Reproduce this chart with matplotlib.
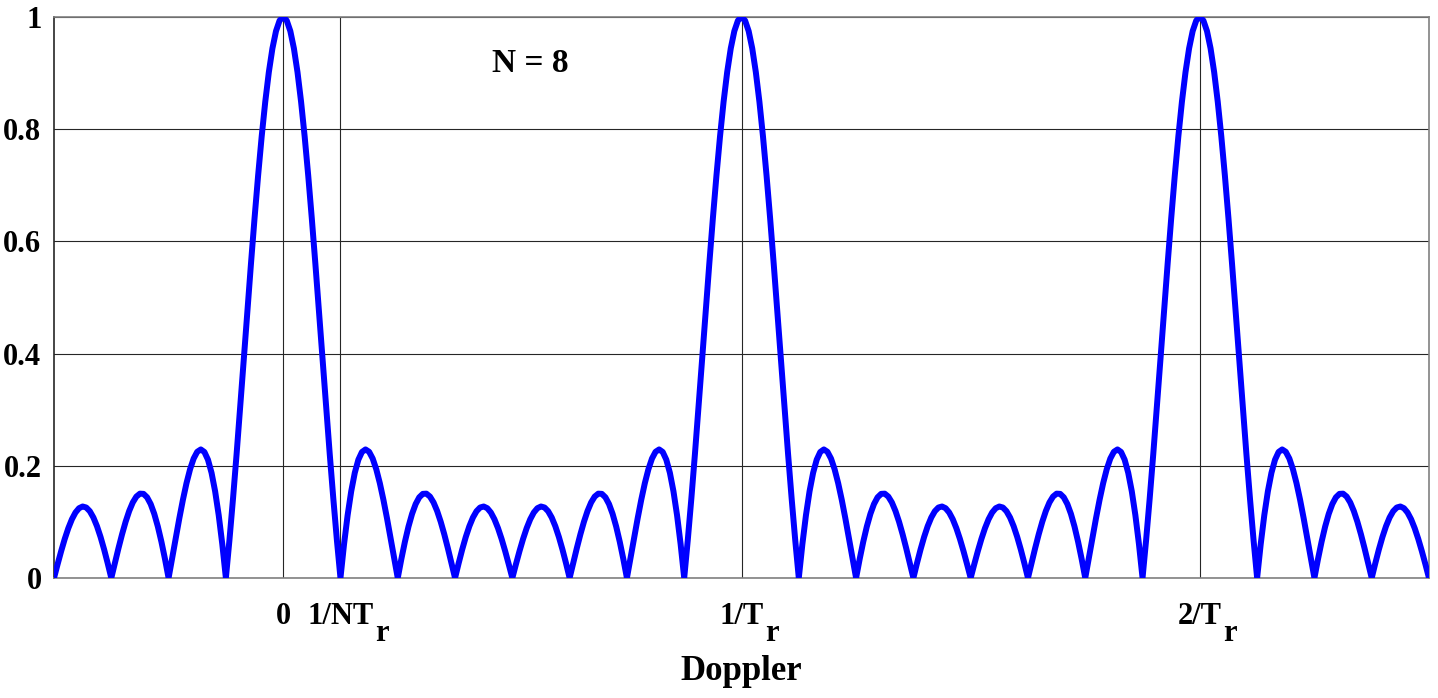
import numpy as np
import matplotlib.pyplot as plt

plt.rcParams['font.family'] = 'Liberation Serif'
plt.rcParams['font.weight'] = 'bold'

# pulse count and Doppler span (in units of 1/Tr)
N = 8
doppler_start = -0.5
doppler_stop = 2.5
n_samples = 385

xtick_pos = [0, 1 / N, 1, 2]
xtick_main = ['0', '1/NT', '1/T', '2/T']
xtick_sub = ['', 'r', 'r', 'r']
ytick_pos = [0, 0.2, 0.4, 0.6, 0.8, 1]
ytick_labels = ['0', '0.2', '0.4', '0.6', '0.8', '1']

# normalised coherent-train response |sin(N pi f Tr) / (N sin(pi f Tr))|
f = np.linspace(doppler_start, doppler_stop, n_samples)
num = np.sin(N * np.pi * f)
den = N * np.sin(np.pi * f)
resp = np.ones_like(f)
ok = np.abs(den) > 1e-9
resp[ok] = np.abs(num[ok] / den[ok])

fig = plt.figure(figsize=(14.38, 6.98), dpi=100)
ax = fig.add_axes([54 / 1438, 1 - 578 / 698, (1429 - 54) / 1438, (578 - 17) / 698])

ax.plot(f, resp, color='#0000ff', lw=4.3, zorder=3)

ax.set_xlim(doppler_start, doppler_stop)
ax.set_ylim(0, 1)
ax.set_xticks(xtick_pos)
ax.set_xticklabels([])
ax.set_yticks(ytick_pos)
ax.set_yticklabels(ytick_labels)
ax.tick_params(length=0, labelsize=22)
ax.tick_params(axis='y', pad=9)
ax.grid(True, color='#262626', lw=0.8)

for s in ax.spines.values():
    s.set_color('#808080')
    s.set_linewidth(1.2)
ax.spines['left'].set_color('#262626')

# x tick labels with a dropped subscript, drawn by hand
trans = ax.get_xaxis_transform()
main_texts = []
for xp, lab in zip(xtick_pos, xtick_main):
    t = ax.annotate(lab, (xp, 0), xycoords=trans, xytext=(0, -17), textcoords='offset points',
                    ha='center', va='top', fontsize=22, fontweight='bold')
    main_texts.append(t)
fig.canvas.draw()
renderer = fig.canvas.get_renderer()
for t, sub in zip(main_texts, xtick_sub):
    if not sub:
        continue
    bb = t.get_window_extent(renderer)
    fig.text(bb.x1 / fig.bbox.width + 0.001, (bb.y0 - 17) / fig.bbox.height, sub,
             fontsize=22, fontweight='bold', ha='left', va='bottom')

ax.text(0.54, 0.918, 'N = 8', fontsize=24, fontweight='bold', ha='center', va='center')
fig.text(741 / 1438, 1 - 672 / 698, 'Doppler', fontsize=25, fontweight='bold',
         ha='center', va='center')

fig.savefig('out.png', dpi=100)
